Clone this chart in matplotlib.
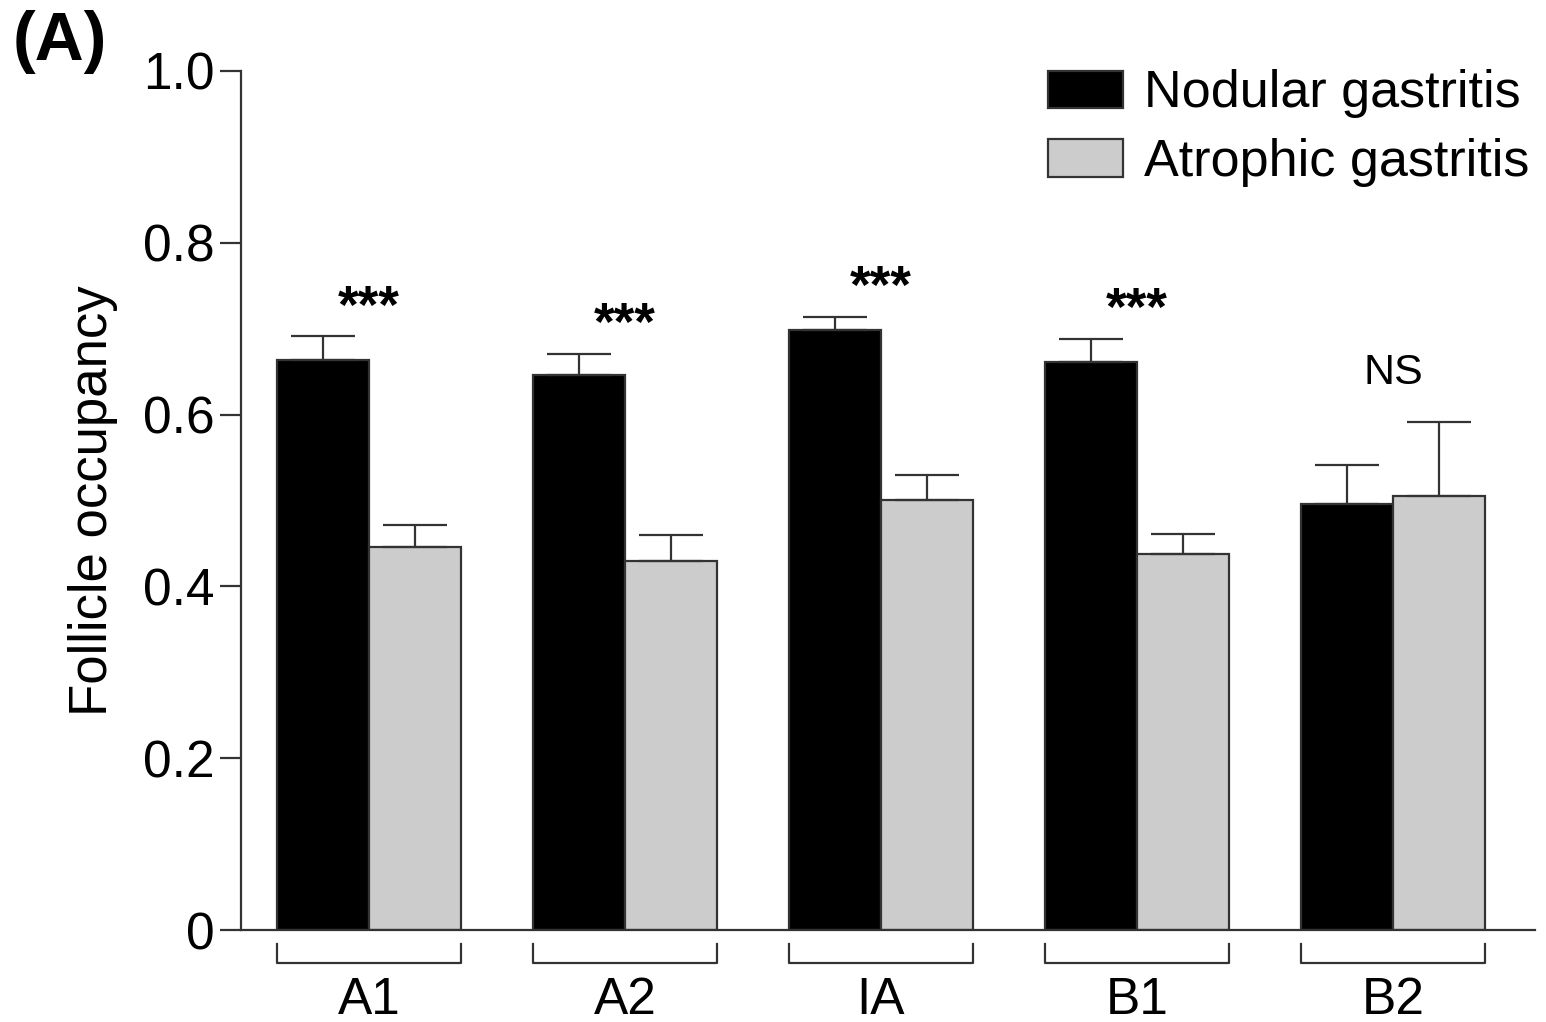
import matplotlib
matplotlib.use("Agg")
import matplotlib.pyplot as plt
import matplotlib.transforms as mtransforms
import numpy as np

plt.rcParams['font.family'] = ['Liberation Sans', 'DejaVu Sans']

categories = ["A1", "A2", "IA", "B1", "B2"]
nodular = [0.663, 0.646, 0.699, 0.661, 0.496]
nodular_err = [0.028, 0.025, 0.015, 0.027, 0.045]
atrophic = [0.446, 0.430, 0.501, 0.438, 0.505]
atrophic_err = [0.025, 0.030, 0.029, 0.023, 0.086]
significance = ["***", "***", "***", "***", "NS"]
yticks = [0, 0.2, 0.4, 0.6, 0.8, 1.0]
ytick_labels = ["0", "0.2", "0.4", "0.6", "0.8", "1.0"]

fig = plt.figure(figsize=(15.46, 10.22), dpi=100)
ax = fig.add_axes([241/1546, 92/1022, (1535-241)/1546, (930-71)/1022])

x = np.arange(len(categories))
w = 0.36
lw = 1.6
ax.bar(x - w/2, nodular, w, color="black", edgecolor="#333333", linewidth=lw,
       label="Nodular gastritis", zorder=2)
ax.bar(x + w/2, atrophic, w, color="#cccccc", edgecolor="#333333", linewidth=lw,
       label="Atrophic gastritis", zorder=2)
ax.errorbar(x - w/2, nodular, yerr=[np.zeros(len(x)), nodular_err], fmt="none",
            ecolor="#333333", elinewidth=lw, capsize=23, capthick=lw, zorder=3)
ax.errorbar(x + w/2, atrophic, yerr=[np.zeros(len(x)), atrophic_err], fmt="none",
            ecolor="#333333", elinewidth=lw, capsize=23, capthick=lw, zorder=3)

ax.set_xlim(-0.5, 4.555)
ax.set_ylim(0, 1.0)
ax.set_yticks(yticks)
ax.set_yticklabels(ytick_labels)
ax.tick_params(axis="y", length=15, width=lw, labelsize=37, pad=4, color="#333333")
ax.set_xticks([])
for s in ["top", "right"]:
    ax.spines[s].set_visible(False)
for s in ["left", "bottom"]:
    ax.spines[s].set_linewidth(lw)
    ax.spines[s].set_color("#333333")

ax.set_ylabel("Follicle occupancy", fontsize=38, labelpad=18)

# brackets and category labels
trans = mtransforms.blended_transform_factory(ax.transData, ax.transAxes)
for xi, cat in zip(x, categories):
    x0, x1 = xi - w, xi + w
    ax.plot([x0, x0, x1, x1], [-0.0163, -0.0384, -0.0384, -0.0163], transform=trans,
            color="#333333", lw=lw, clip_on=False)
    ax.text(xi, -0.053, cat, transform=trans, ha="center", va="top", fontsize=37)

# significance labels
for xi, s, n, ne, a, ae in zip(x, significance, nodular, nodular_err, atrophic, atrophic_err):
    top = max(n + ne, a + ae)
    if s == "NS":
        ax.annotate(s, xy=(xi, top), xytext=(0, 21), textcoords="offset points",
                    ha="center", va="bottom", fontsize=31)
    else:
        ax.annotate(s, xy=(xi, top), xytext=(0, 2), textcoords="offset points",
                    ha="center", va="bottom", fontsize=38, fontweight="bold")

leg = ax.legend(loc="upper right", bbox_to_anchor=(1540/1546, 963/1022),
                bbox_transform=fig.transFigure, frameon=False, fontsize=37.5,
                handlelength=1.45, handleheight=0.72, handletextpad=0.4,
                labelspacing=0.38, borderpad=0.2, borderaxespad=0)

fig.text(13/1546, 1 - 10/1022, "(A)", fontsize=49, fontweight="bold", ha="left", va="top")

fig.savefig("out.png", dpi=100)
